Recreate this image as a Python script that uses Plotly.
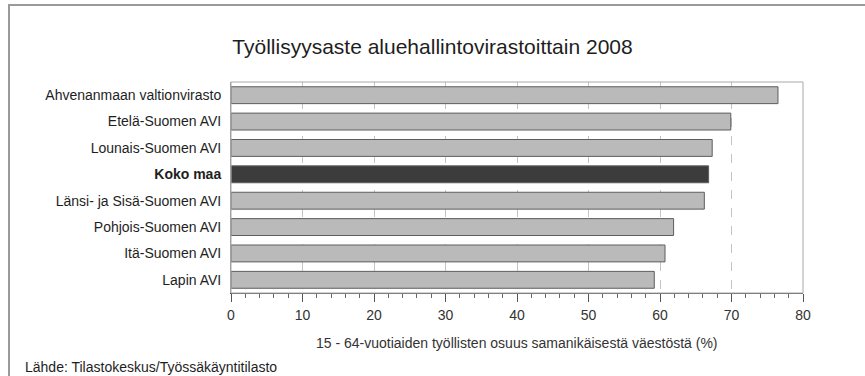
import plotly.graph_objects as go

categories = ["Ahvenanmaan valtionvirasto", "Etelä-Suomen AVI", "Lounais-Suomen AVI",
              "Koko maa", "Länsi- ja Sisä-Suomen AVI", "Pohjois-Suomen AVI",
              "Itä-Suomen AVI", "Lapin AVI"]
values = [76.5, 69.9, 67.3, 66.8, 66.2, 61.9, 60.7, 59.2]
highlight = "Koko maa"
x_ticks = [0, 10, 20, 30, 40, 50, 60, 70, 80]

title_text = "Työllisyysaste aluehallintovirastoittain 2008"
x_title = "15 - 64-vuotiaiden työllisten osuus samanikäisestä väestöstä (%)"
source_text = "Lähde: Tilastokeskus/Työssäkäyntitilasto"

bar_colors = ["#3c3c3c" if c == highlight else "#bababa" for c in categories]
tick_text = [f"<b>{c}</b>" if c == highlight else c for c in categories]

FONT = "Liberation Sans, Arial, sans-serif"
W, H = 865, 376
L, R, T, B = 231, 62, 82, 83
PW, PH = W - L - R, H - T - B


def px(x):
    return (x - L) / PW


def py(y):
    return (H - B - y) / PH


fig = go.Figure(go.Bar(
    x=values, y=categories, orientation="h",
    marker=dict(color=bar_colors, line=dict(color="#5e5e5e", width=1)),
    width=0.64,
    hoverinfo="x+y",
))

fig.update_layout(
    width=W, height=H,
    margin=dict(l=L, r=R, t=T, b=B, autoexpand=False),
    paper_bgcolor="white", plot_bgcolor="white",
    font=dict(family=FONT, size=14, color="#1e1e1e"),
    showlegend=False,
    title=dict(text=title_text, x=0.5, xref="container", xanchor="center",
               y=1 - 47 / H, yref="container", yanchor="middle",
               font=dict(size=21, color="#1e1e1e", family=FONT)),
    xaxis=dict(range=[0, 80], tickvals=x_ticks, ticks="outside", ticklen=8,
               tickcolor="#555", showline=True, linecolor="#555", linewidth=1,
               mirror=False, showgrid=True, gridcolor="#c4c4c4", griddash="dash",
               gridwidth=1, zeroline=False, ticklabelstandoff=1,
               minor=dict(dtick=2, ticks="outside", ticklen=4, tickcolor="#666",
                          showgrid=False),
               tickfont=dict(size=14, color="#333"),
               fixedrange=True),
    yaxis=dict(categoryorder="array", categoryarray=categories, autorange="reversed",
               tickvals=categories, ticktext=tick_text, ticks="", showgrid=False,
               showline=True, linecolor="#999", linewidth=1, ticklabelstandoff=6,
               tickfont=dict(size=14, color="#1e1e1e"), fixedrange=True),
    shapes=[
        dict(type="rect", xref="paper", yref="paper", x0=0, x1=1, y0=0, y1=1,
             line=dict(color="#a8a8a8", width=1), fillcolor="rgba(0,0,0,0)", layer="above"),
        # outer frame of the chart box (top and left edges visible)
        dict(type="rect", xref="paper", yref="paper",
             x0=px(9), x1=px(1000), y0=py(500), y1=py(5),
             line=dict(color="#9a9a9a", width=2), fillcolor="rgba(0,0,0,0)"),
    ],
    annotations=[
        dict(text=x_title, xref="paper", yref="paper", x=0.5, y=py(343),
             xanchor="center", yanchor="middle", showarrow=False,
             font=dict(size=14, color="#333", family=FONT)),
        dict(text=source_text, xref="paper", yref="paper",
             x=px(23), y=py(367),
             xanchor="left", yanchor="middle", showarrow=False,
             font=dict(size=14, color="#1e1e1e", family=FONT)),
    ],
)

fig.write_html("out.html", config={"displayModeBar": False},
               post_script="document.body.style.margin='0';document.body.style.overflow='hidden';")
